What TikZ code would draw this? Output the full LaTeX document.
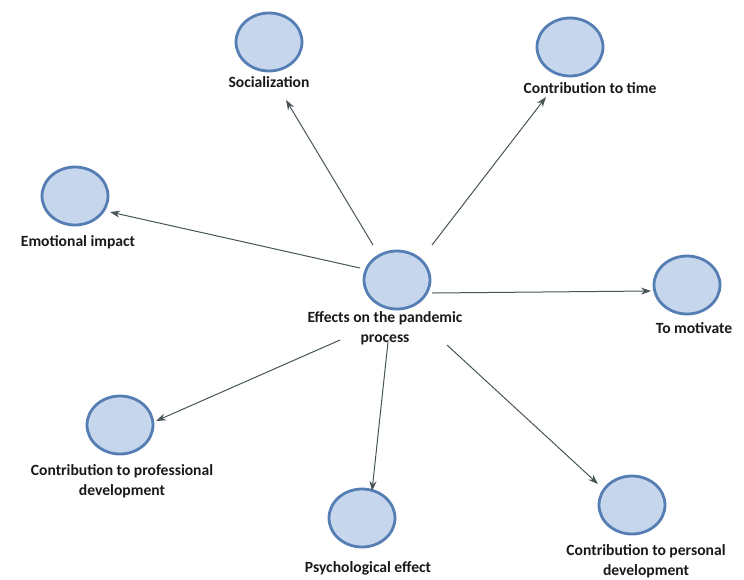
\documentclass[tikz,border=0pt]{standalone}
\usepackage{fontspec}
\setmainfont{Carlito}
\usetikzlibrary{shapes.geometric,arrows.meta}
\definecolor{cfill}{RGB}{198,214,236}
\definecolor{cborder}{RGB}{84,126,180}
\definecolor{arr}{RGB}{70,84,86}
\tikzset{
  bub/.style={ellipse,draw=cborder,fill=cfill,line width=2.8pt,minimum width=66pt,minimum height=58pt,inner sep=0pt},
  lab/.style={font=\fontsize{15.6}{20.5}\selectfont\bfseries,text=black!90,align=center,inner sep=0pt},
  conn/.style={draw=arr,line width=1pt,-{Stealth[length=10pt,width=7pt]}}
}
\begin{document}
\begin{tikzpicture}[x=1pt,y=-1pt]
\useasboundingbox (0,0) rectangle (744,579);
% bubbles
\node[bub] (soc) at (269,42) {};
\node[bub] (tim) at (570,47) {};
\node[bub] (emo) at (75,196) {};
\node[bub] (cen) at (397,280) {};
\node[bub] (mot) at (687,285) {};
\node[bub] (pro) at (120,425) {};
\node[bub] (psy) at (362,518) {};
\node[bub] (per) at (632,505) {};
% labels
\node[lab] (socl) at (269,82) {Socialization};
\node[lab] (timl) at (590,88) {Contribution to time};
\node[lab] (emol) at (78,242) {Emotional impact};
\node[lab] (cenl) at (385,328) {Effects on the pandemic\\process};
\node[lab] (motl) at (694,328) {To motivate};
\node[lab] (prol) at (122,481) {Contribution to professional\\development};
\node[lab] (psyl) at (368,568) {Psychological effect};
\node[lab] (perl) at (646,561) {Contribution to personal\\development};
% connector end points
\coordinate (s1) at (373,245); \coordinate (e1) at (286,100);
\coordinate (s2) at (432,245); \coordinate (e2) at (546,97);
\coordinate (s3) at (360,268); \coordinate (e3) at (110,212);
\coordinate (s4) at (432,293); \coordinate (e4) at (651,291);
\coordinate (s5) at (340,340); \coordinate (e5) at (156,421);
\coordinate (s6) at (388,342); \coordinate (e6) at (372,491);
\coordinate (s7) at (447,345); \coordinate (e7) at (598,484);
\draw[conn] (s1) -- (e1);
\draw[conn] (s2) -- (e2);
\draw[conn] (s3) -- (e3);
\draw[conn] (s4) -- (e4);
\draw[conn] (s5) -- (e5);
\draw[conn] (s6) -- (e6);
\draw[conn] (s7) -- (e7);
\end{tikzpicture}
\end{document}
